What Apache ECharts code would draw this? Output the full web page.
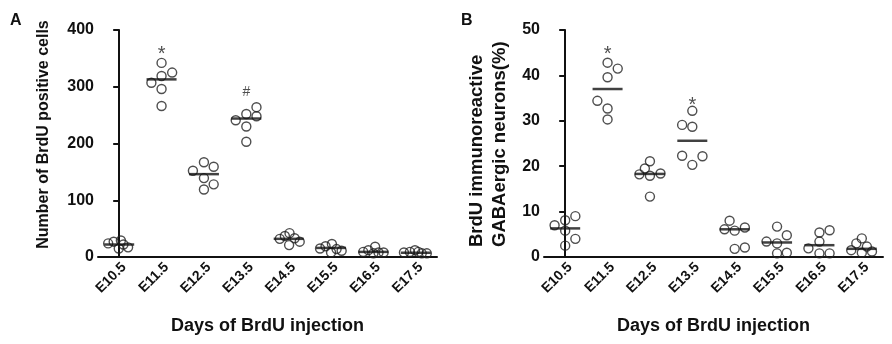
<!DOCTYPE html>
<html>
<head>
<meta charset="utf-8">
<script src="https://cdn.jsdelivr.net/npm/echarts@6/dist/echarts.min.js"></script>
<style>
  html, body { margin: 0; padding: 0; background: #fff; }
  #chart { width: 892px; height: 344px; }
</style>
</head>
<body>
<div id="chart"></div>
<script>
// categories on the x axis
var categories = ['E10.5', 'E11.5', 'E12.5', 'E13.5', 'E14.5', 'E15.5', 'E16.5', 'E17.5'];

// panel A: number of BrdU positive cells, 6 animals per day
var countsA = [
  [24, 27, 15, 29, 17, 22],
  [342, 307, 319, 325, 296, 266],
  [152, 167, 159, 139, 119, 128],
  [241, 252, 264, 248, 230, 203],
  [32, 37, 42, 21, 33, 27],
  [15, 19, 23, 8, 14, 11],
  [9, 12, 18, 6.5, 8, 8],
  [8, 9, 12, 9, 6.5, 6.5]
];
// horizontal spread of each dot inside its column (in category units)
var jitterA = [
  [-0.26, -0.13, -0.01, 0.04, 0.21, 0.1],
  [0, -0.24, 0, 0.25, 0, 0],
  [-0.26, 0, 0.23, 0, 0, 0.23],
  [-0.25, 0, 0.24, 0.24, 0, 0],
  [-0.21, -0.09, 0.02, 0.01, 0.14, 0.26],
  [-0.26, -0.13, 0.02, 0, 0.13, 0.25],
  [-0.24, -0.12, 0.04, 0, 0.12, 0.24],
  [-0.28, -0.14, -0.02, 0.06, 0.14, 0.26]
];
var meansA = [22, 313, 146, 244, 32, 16, 9, 7.5];
var ticksA = [0, 100, 200, 300, 400];

// panel B: BrdU immunoreactive GABAergic neurons (%)
var percentB = [
  [7.0, 8.1, 9.0, 5.8, 4.0, 2.5],
  [42.8, 41.5, 39.6, 34.4, 32.7, 30.3],
  [21.1, 19.5, 18.2, 17.9, 18.4, 13.3],
  [32.2, 29.1, 28.7, 22.3, 22.2, 20.3],
  [8.0, 6.1, 5.8, 6.5, 1.8, 2.1],
  [3.4, 6.7, 4.8, 3.0, 0.8, 0.95],
  [1.9, 3.4, 5.4, 5.9, 0.8, 0.8],
  [1.5, 3.0, 4.1, 2.3, 1.2, 0.95]
];
var jitterB = [
  [-0.25, 0, 0.24, 0, 0.24, 0],
  [0, 0.24, 0, -0.24, 0, 0],
  [0, -0.12, -0.25, 0, 0.25, 0],
  [0, -0.24, 0, -0.24, 0.24, 0],
  [-0.12, -0.24, 0, 0.24, 0, 0.24],
  [-0.25, 0, 0.23, 0, 0, 0.23],
  [-0.26, 0, 0, 0.24, 0, 0.24],
  [-0.25, -0.13, 0, 0.12, 0.24, 0]
];
var meansB = [6.3, 37, 18.3, 25.6, 6.1, 3.2, 2.6, 1.8];
var ticksB = [0, 10, 20, 30, 40, 50];

// significance marks: [category index, value, text]
var marksA = [[1, 356, '*'], [3, 291, '#']];
var marksB = [[1, 44.5, '*'], [3, 33.4, '*']];

var FONT = '"Liberation Sans", Arial, sans-serif';
var INK = '#111';

function dots(values, jitter) {
  var out = [];
  values.forEach(function (col, i) {
    col.forEach(function (v, j) {
      out.push([i + jitter[i][j], v]);
    });
  });
  return out;
}

function catAxis(grid) {
  return {
    type: 'category',
    gridIndex: grid,
    data: categories,
    boundaryGap: true,
    name: 'Days of BrdU injection',
    nameLocation: 'middle',
    nameGap: 60,
    nameTextStyle: { fontFamily: FONT, fontWeight: 'bold', fontSize: 18, color: INK },
    axisLine: { lineStyle: { color: INK, width: 2 } },
    axisTick: { alignWithLabel: true, length: 6, lineStyle: { color: INK, width: 2 } },
    axisLabel: {
      rotate: 45, margin: 3, verticalAlign: 'top',
      fontFamily: FONT, fontWeight: 'bold', fontSize: 14, color: INK
    }
  };
}

function valAxis(grid) {
  return { type: 'value', gridIndex: grid, min: -0.5, max: 7.5, show: false };
}

function yAxis(grid, ticks, name, gap) {
  return {
    type: 'value',
    gridIndex: grid,
    min: ticks[0],
    max: ticks[ticks.length - 1],
    interval: ticks[1] - ticks[0],
    name: name,
    nameLocation: 'middle',
    nameGap: gap,
    nameTextStyle: { fontFamily: FONT, fontWeight: 'bold', fontSize: 16, color: INK, padding: [0, 0, 0, 18] },
    splitLine: { show: false },
    axisLine: { show: true, lineStyle: { color: INK, width: 2 } },
    axisTick: { show: true, length: 6, lineStyle: { color: INK, width: 2 } },
    axisLabel: { margin: 4, fontFamily: FONT, fontWeight: 'bold', fontSize: 16, color: INK }
  };
}

function panelSeries(xi, yi, values, jitter, means, marks) {
  return [{
    type: 'scatter',
    xAxisIndex: xi,
    yAxisIndex: yi,
    data: dots(values, jitter),
    symbol: 'circle',
    symbolSize: 9,
    itemStyle: { color: 'rgba(255,255,255,0)', borderColor: '#222', borderWidth: 1.4 },
    z: 2
  }, {
    type: 'scatter',
    xAxisIndex: xi,
    yAxisIndex: yi,
    data: means.map(function (m, i) { return [i, m]; }),
    symbol: 'rect',
    symbolSize: [30, 2.5],
    itemStyle: { color: INK },
    z: 3
  }, {
    type: 'scatter',
    xAxisIndex: xi,
    yAxisIndex: yi,
    symbolSize: 0,
    data: marks.map(function (m) {
      return {
        value: [m[0], m[1]],
        name: m[2],
        label: { fontSize: m[2] === '#' ? 14 : 20 }
      };
    }),
    label: {
      show: true,
      position: 'inside',
      formatter: '{b}',
      fontFamily: FONT,
      color: '#222'
    },
    z: 4
  }];
}

var chart = echarts.init(document.getElementById('chart'));
chart.setOption({
  backgroundColor: '#fff',
  animation: false,
  title: [
    { text: 'A', left: 5, top: 8, textStyle: { fontFamily: FONT, fontWeight: 'bold', fontSize: 16, color: INK } },
    { text: 'B', left: 456, top: 8, textStyle: { fontFamily: FONT, fontWeight: 'bold', fontSize: 16, color: INK } }
  ],
  grid: [
    { left: 98, right: 455, top: 30, bottom: 87 },
    { left: 544, right: 9, top: 30, bottom: 87 }
  ],
  xAxis: [catAxis(0), valAxis(0), catAxis(1), valAxis(1)],
  yAxis: [
    yAxis(0, ticksA, 'Number of BrdU positive cells', 46),
    yAxis(1, ticksB, '', 34)
  ],
  // two-line y title of panel B, left-aligned along the axis as in the figure
  graphic: [{
    type: 'text',
    x: 488.5,
    y: 247,
    rotation: Math.PI / 2,
    style: {
      text: 'BrdU immunoreactive\nGABAergic neurons(%)',
      font: 'bold 18.5px ' + FONT,
      fill: INK,
      align: 'left',
      verticalAlign: 'middle',
      lineHeight: 23
    }
  }],
  series: panelSeries(1, 0, countsA, jitterA, meansA, marksA)
    .concat(panelSeries(3, 1, percentB, jitterB, meansB, marksB))
});
</script>
</body>
</html>
